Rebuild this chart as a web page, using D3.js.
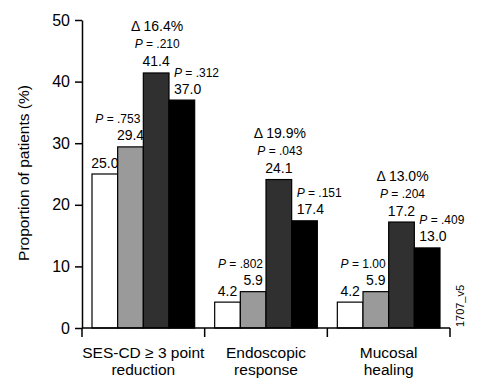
<!DOCTYPE html>
<html>
<head>
<meta charset="utf-8">
<script src="https://cdn.jsdelivr.net/npm/d3@7"></script>
<style>
  body { margin: 0; background: #fff; }
  svg text { font-family: "Liberation Sans", Arial, Helvetica, sans-serif; fill: #000; }
</style>
</head>
<body>
<svg width="481" height="391"></svg>
<script>
var categories = ['SES-CD \u2265 3 point|reduction', 'Endoscopic|response', 'Mucosal|healing'],
    series = ['s1', 's2', 's3', 's4'],
    colors = ['#ffffff', '#9a9a9a', '#303030', '#000000'],
    values = [
      [25.0, 29.4, 41.4, 37.0],
      [4.2, 5.9, 24.1, 17.4],
      [4.2, 5.9, 17.2, 13.0]
    ],
    pGray = ['.753', '.802', '1.00'],
    pDark = ['.210', '.043', '.204'],
    pBlack = ['.312', '.151', '.409'],
    deltas = ['16.4%', '19.9%', '13.0%'],
    yTicks = [0, 10, 20, 30, 40, 50];

var svg = d3.select('svg'),
    plotLeft = 82, plotRight = 450, plotTop = 20, plotBottom = 328;

var x0 = d3.scaleBand().domain(d3.range(categories.length)).range([plotLeft, plotRight]),
    x1 = d3.scaleBand().domain(series).range([10, x0.bandwidth() - 10]),
    y = d3.scaleLinear().domain([0, 50]).range([plotBottom, plotTop]);

// y axis
var yAxis = svg.append('g')
    .attr('transform', 'translate(' + plotLeft + ',0)')
    .call(d3.axisLeft(y).tickValues(yTicks).tickSize(7).tickSizeOuter(0).tickPadding(5));
yAxis.select('.domain').attr('stroke-width', 1.5);
yAxis.selectAll('.tick line').attr('stroke-width', 1.5);
yAxis.selectAll('.tick text')
    .style('font-size', '16px')
    .style('font-family', '"Liberation Sans", Arial, sans-serif');

svg.append('text')
    .attr('transform', 'translate(29,173) rotate(-90)')
    .attr('text-anchor', 'middle')
    .style('font-size', '15.5px')
    .text('Proportion of patients (%)');

// bars
var groups = svg.selectAll('.group')
    .data(values)
    .enter().append('g')
    .attr('class', 'group')
    .attr('transform', function(d, i) { return 'translate(' + x0(i) + ',0)'; });

groups.selectAll('rect')
    .data(function(d) { return d; })
    .enter().append('rect')
    .attr('x', function(d, j) { return x1(series[j]); })
    .attr('y', function(d) { return y(d); })
    .attr('width', x1.bandwidth())
    .attr('height', function(d) { return plotBottom - y(d); })
    .attr('fill', function(d, j) { return colors[j]; })
    .attr('stroke', '#000')
    .attr('stroke-width', 1.2);

// value labels
groups.selectAll('.val')
    .data(function(d) { return d; })
    .enter().append('text')
    .attr('class', 'val')
    .attr('x', function(d, j) {
      return j === 3 ? x1(series[j]) + 5 : x1(series[j]) + x1.bandwidth() / 2;
    })
    .attr('y', function(d) { return y(d) - 6.5; })
    .attr('text-anchor', function(d, j) { return j === 3 ? 'start' : 'middle'; })
    .style('font-size', '14px')
    .text(function(d) { return d.toFixed(1); });

function pLabel(sel, p) {
  sel.append('tspan').style('font-style', 'italic').text('P');
  sel.append('tspan').text(' = ' + p);
}

groups.each(function(d, i) {
  var g = d3.select(this);
  // gray bar p
  g.append('text')
      .attr('x', x1('s2') + x1.bandwidth() - 3)
      .attr('y', y(d[1]) - 24)
      .attr('text-anchor', 'end')
      .style('font-size', '12px')
      .call(pLabel, pGray[i]);
  // dark bar p and delta
  g.append('text')
      .attr('x', x1('s3') + x1.bandwidth() / 2 + 1)
      .attr('y', y(d[2]) - 24.5)
      .attr('text-anchor', 'middle')
      .style('font-size', '12px')
      .call(pLabel, pDark[i]);
  g.append('text')
      .attr('x', x1('s3') + x1.bandwidth() / 2 + 1)
      .attr('y', y(d[2]) - 41.5)
      .attr('text-anchor', 'middle')
      .style('font-size', '14px')
      .text('\u0394 ' + deltas[i]);
  // black bar p
  g.append('text')
      .attr('x', x1('s4') + 5)
      .attr('y', y(d[3]) - 23.5)
      .attr('text-anchor', 'start')
      .style('font-size', '12px')
      .call(pLabel, pBlack[i]);
});

// x axis
svg.append('line')
    .attr('x1', plotLeft).attr('x2', plotRight)
    .attr('y1', plotBottom).attr('y2', plotBottom)
    .attr('stroke', '#000').attr('stroke-width', 1.5);

svg.selectAll('.xtick')
    .data(d3.range(categories.length + 1))
    .enter().append('line')
    .attr('class', 'xtick')
    .attr('x1', function(i) { return i < categories.length ? x0(i) : plotRight; })
    .attr('x2', function(i) { return i < categories.length ? x0(i) : plotRight; })
    .attr('y1', plotBottom).attr('y2', plotBottom + 9)
    .attr('stroke', '#000').attr('stroke-width', 1.5);

svg.selectAll('.xlab')
    .data(categories)
    .enter().append('text')
    .attr('class', 'xlab')
    .attr('text-anchor', 'middle')
    .style('font-size', '15.5px')
    .each(function(d, i) {
      var t = d3.select(this);
      d.split('|').forEach(function(line, k) {
        t.append('tspan')
            .attr('x', x0(i) + x0.bandwidth() / 2)
            .attr('y', 358 + k * 17)
            .text(line);
      });
    });

svg.append('text')
    .attr('transform', 'translate(464,306) rotate(-90)')
    .attr('text-anchor', 'middle')
    .style('font-size', '11px')
    .text('1707_v5');
</script>
</body>
</html>
